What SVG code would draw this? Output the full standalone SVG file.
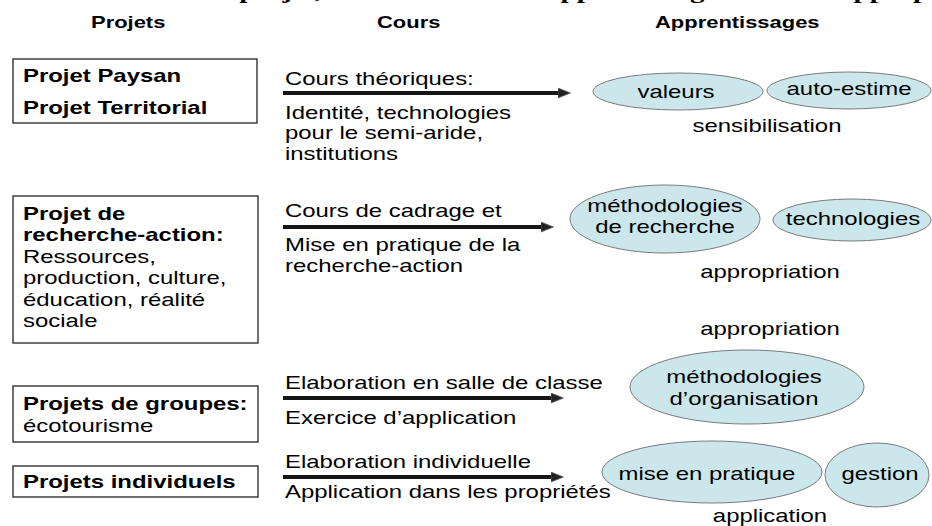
<svg xmlns="http://www.w3.org/2000/svg" width="932" height="526" viewBox="0 0 932 526">
<style>
.t{font-family:"Liberation Sans",Arial,sans-serif;font-size:18px;fill:#000}
.b{font-weight:bold}
.h{font-family:"Liberation Sans",Arial,sans-serif;font-size:16.5px;font-weight:bold;fill:#000}
.ttl{font-family:"Liberation Serif","Times New Roman",serif;font-size:22px;font-weight:bold;fill:#000}
.box{fill:#fff;stroke:#222;stroke-width:1.3}
.ell{fill:#cbe7eb;stroke:#7a7a7a;stroke-width:1}
.arr{stroke:#151515;stroke-width:4;fill:none;marker-end:url(#ah)}
.m{text-anchor:middle}
</style>
<defs>
<marker id="ah" markerUnits="userSpaceOnUse" markerWidth="13" markerHeight="11" refX="4" refY="5.5" orient="auto">
<path d="M0,0.5 L12.5,5.5 L0,10.5 z" fill="#222" stroke="#666" stroke-width="0.8"/>
</marker>
</defs>
<rect width="932" height="526" fill="#fff"/>

<g id="title">
<text class="ttl" transform="translate(0,-2.5) scale(1.33,1)"><tspan x="41">Relation entre projet, cours et</tspan><tspan x="410.5">apprentissage :</tspan><tspan x="617.3">l’appropriation</tspan></text>
</g>

<g id="headers">
<text class="h" transform="translate(91,28) scale(1.33,1)">Projets</text>
<text class="h" transform="translate(377,28) scale(1.33,1)">Cours</text>
<text class="h" transform="translate(655,28) scale(1.33,1)">Apprentissages</text>
</g>

<g id="connectors">
<line class="arr" x1="283" y1="93" x2="562" y2="93"/>
<line class="arr" x1="283" y1="227" x2="545" y2="227"/>
<line class="arr" x1="283" y1="398" x2="555" y2="398"/>
<line class="arr" x1="283" y1="477" x2="555" y2="477"/>
</g>

<g id="projet-paysan">
<rect class="box" x="13" y="59" width="244" height="64"/>
<text class="t b" transform="translate(23,0) scale(1.33,1)"><tspan x="0" y="82">Projet Paysan</tspan><tspan x="0" y="114">Projet Territorial</tspan></text>
</g>

<g id="projet-recherche-action">
<rect class="box" x="13" y="196" width="245" height="147"/>
<text class="t" transform="translate(23,0) scale(1.33,1)"><tspan class="b" x="0" y="220">Projet de</tspan><tspan class="b" x="0" y="241.5">recherche-action:</tspan><tspan x="0" y="263">Ressources,</tspan><tspan x="0" y="284.5">production, culture,</tspan><tspan x="0" y="306">éducation, réalité</tspan><tspan x="0" y="327.5">sociale</tspan></text>
</g>

<g id="projets-groupes">
<rect class="box" x="13" y="386" width="245" height="56"/>
<text class="t" transform="translate(23,0) scale(1.33,1)"><tspan class="b" x="0" y="410">Projets de groupes:</tspan><tspan x="0" y="432">écotourisme</tspan></text>
</g>

<g id="projets-individuels">
<rect class="box" x="13" y="466" width="245" height="31"/>
<text class="t b" transform="translate(23,488) scale(1.33,1)">Projets individuels</text>
</g>

<g id="cours-theoriques">
<text class="t" transform="translate(285,0) scale(1.33,1)"><tspan x="0" y="85">Cours théoriques:</tspan><tspan x="0" y="119">Identité, technologies</tspan><tspan x="0" y="139.5">pour le semi-aride,</tspan><tspan x="0" y="160">institutions</tspan></text>
</g>

<g id="cours-cadrage">
<text class="t" transform="translate(285,0) scale(1.33,1)"><tspan x="0" y="217">Cours de cadrage et</tspan><tspan x="0" y="251">Mise en pratique de la</tspan><tspan x="0" y="272">recherche-action</tspan></text>
</g>

<g id="cours-groupes">
<text class="t" transform="translate(285,0) scale(1.33,1)"><tspan x="0" y="389">Elaboration en salle de classe</tspan><tspan x="0" y="424">Exercice d’application</tspan></text>
</g>

<g id="cours-individuels">
<text class="t" transform="translate(285,0) scale(1.33,1)"><tspan x="0" y="468">Elaboration individuelle</tspan><tspan x="0" y="498">Application dans les propriétés</tspan></text>
</g>

<g id="valeurs">
<ellipse class="ell" cx="678" cy="91.5" rx="85" ry="18.5"/>
<text class="t m" transform="translate(676,98) scale(1.33,1)">valeurs</text>
</g>

<g id="auto-estime">
<ellipse class="ell" cx="849" cy="90.5" rx="82" ry="18.5"/>
<text class="t m" transform="translate(849,95) scale(1.33,1)">auto-estime</text>
</g>

<g id="sensibilisation">
<text class="t m" transform="translate(767,132) scale(1.33,1)">sensibilisation</text>
</g>

<g id="methodologies-recherche">
<ellipse class="ell" cx="665" cy="219" rx="95" ry="34"/>
<text class="t m" transform="translate(665,0) scale(1.33,1)"><tspan x="0" y="212">méthodologies</tspan><tspan x="0" y="233">de recherche</tspan></text>
</g>

<g id="technologies">
<ellipse class="ell" cx="852" cy="220" rx="79" ry="21"/>
<text class="t m" transform="translate(853,225) scale(1.33,1)">technologies</text>
</g>

<g id="appropriation-1">
<text class="t m" transform="translate(770,278) scale(1.33,1)">appropriation</text>
</g>

<g id="appropriation-2">
<text class="t m" transform="translate(770,335) scale(1.33,1)">appropriation</text>
</g>

<g id="methodologies-organisation">
<ellipse class="ell" cx="747" cy="387" rx="117" ry="37"/>
<text class="t m" transform="translate(744,0) scale(1.33,1)"><tspan x="0" y="383">méthodologies</tspan><tspan x="0" y="405">d’organisation</tspan></text>
</g>

<g id="mise-en-pratique">
<ellipse class="ell" cx="712" cy="472" rx="110" ry="31"/>
<text class="t m" transform="translate(707,480) scale(1.33,1)">mise en pratique</text>
</g>

<g id="gestion">
<ellipse class="ell" cx="877" cy="475" rx="52" ry="32"/>
<text class="t m" transform="translate(880,480) scale(1.33,1)">gestion</text>
</g>

<g id="application">
<text class="t m" transform="translate(770,522) scale(1.33,1)">application</text>
</g>
</svg>
